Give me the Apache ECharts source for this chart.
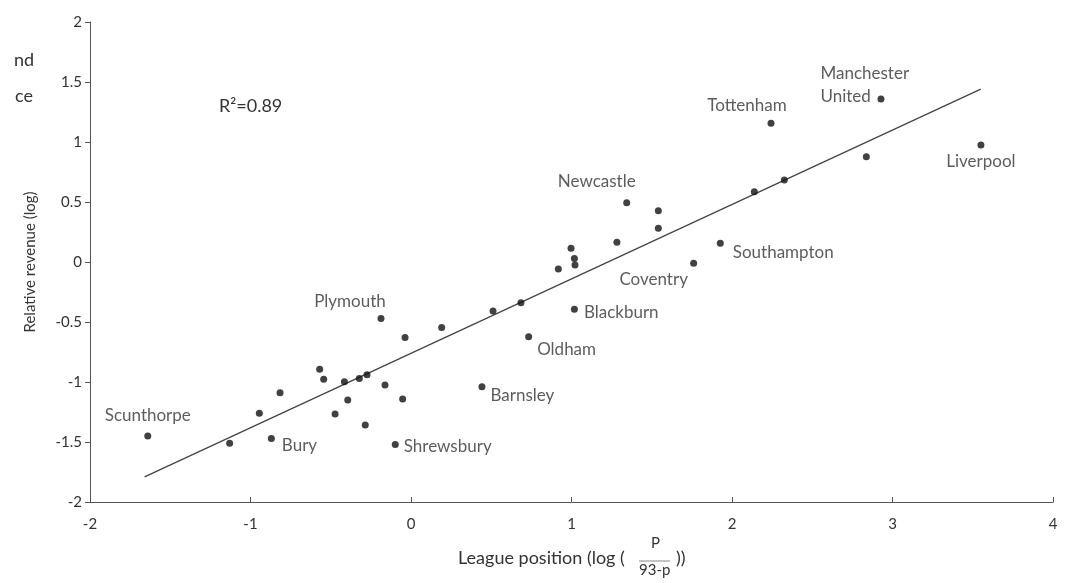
<!DOCTYPE html>
<html>
<head>
<meta charset="utf-8">
<script src="https://cdn.jsdelivr.net/npm/echarts@6/dist/echarts.min.js"></script>
<style>html,body{margin:0;padding:0;background:#fff}#c{width:1065px;height:583px}</style>
</head>
<body>
<div id="c"></div>
<script>
// ---- data ----
const pointX = [-1.64, -1.13, -0.87, -0.945, -0.816, -0.569, -0.544, -0.415, -0.322, -0.274, -0.473, -0.394, -0.285, -0.162, -0.052, -0.098, -0.187, -0.037, 0.191, 0.511, 0.685, 0.733, 0.442, 1.018, 0.918, 1.018, 1.022, 0.997, 1.283, 1.344, 1.541, 1.541, 1.761, 1.927, 2.139, 2.326, 2.243, 2.928, 2.837, 3.551];
const pointY = [-1.45, -1.51, -1.47, -1.26, -1.09, -0.894, -0.978, -0.997, -0.97, -0.94, -1.267, -1.15, -1.358, -1.025, -1.142, -1.52, -0.47, -0.63, -0.545, -0.408, -0.339, -0.622, -1.039, -0.394, -0.058, 0.03, -0.025, 0.114, 0.164, 0.494, 0.428, 0.281, -0.011, 0.156, 0.586, 0.683, 1.156, 1.358, 0.878, 0.975];
const pointLabel = ['Scunthorpe', '', 'Bury', '', '', '', '', '', '', '', '', '', '', '', '', 'Shrewsbury', 'Plymouth', '', '', '', '', 'Oldham', 'Barnsley', 'Blackburn', '', '', '', '', '', 'Newcastle', '', '', 'Coventry', 'Southampton', '', '', 'Tottenham', 'Manchester\nUnited', '', 'Liverpool'];
const fitX = [-1.66, 3.55];
const fitY = [-1.79, 1.44];
const xTicks = [-2, -1, 0, 1, 2, 3, 4];
const yTicks = [-2, -1.5, -1, -0.5, 0, 0.5, 1, 1.5, 2];
const yTitle = 'Relative revenue (log)';
const xTitle = 'League position (log (';
const xTitleNum = 'P';
const xTitleDen = '93-p';
const xTitleEnd = '))';
const rSquared = 'R²=0.89';
const cutText = ['nd', 'ce'];

// ---- styles (label placement) ----
const FONT = 'Lato';
const TXT = '#333';
const labelPlace = {
  'Scunthorpe': {position: 'top', distance: 8},
  'Bury': {position: 'right', distance: 7, offset: [0, 7]},
  'Shrewsbury': {position: 'right', distance: 5, offset: [0, 2]},
  'Barnsley': {position: 'right', distance: 5, offset: [0, 9]},
  'Plymouth': {position: 'top', distance: 5, offset: [-31, 0]},
  'Oldham': {position: 'right', distance: 5, offset: [0, 13]},
  'Blackburn': {position: 'right', distance: 6, offset: [0, 3]},
  'Coventry': {position: 'bottom', distance: 4, offset: [-40, 0]},
  'Southampton': {position: 'right', distance: 9, offset: [0, 9]},
  'Newcastle': {position: 'top', distance: 9, offset: [-30, 0]},
  'Tottenham': {position: 'top', distance: 6, offset: [-24, 0]},
  'Manchester\nUnited': {position: [-57, -34], align: 'left', verticalAlign: 'top', lineHeight: 23},
  'Liverpool': {position: 'bottom', distance: 5}
};

const scatterData = pointX.map((x, i) => {
  const d = {value: [x, pointY[i]]};
  const lab = pointLabel[i];
  if (lab) {
    d.label = Object.assign({show: true, formatter: lab, fontFamily: FONT, fontSize: 17, color: TXT}, labelPlace[lab]);
  }
  return d;
});

const chart = echarts.init(document.getElementById('c'));
chart.setOption({
  backgroundColor: '#fff',
  animation: false,
  grid: {left: 90, right: 12, top: 22, bottom: 81},
  xAxis: {
    type: 'value', min: xTicks[0], max: xTicks[xTicks.length - 1], interval: 1,
    axisLine: {show: true, onZero: false, lineStyle: {color: '#555', width: 1}},
    axisTick: {show: true, inside: true, length: 5, lineStyle: {color: '#555'}},
    splitLine: {show: false},
    axisLabel: {fontFamily: FONT, fontSize: 15, color: TXT, margin: 15,
      formatter: v => xTicks.includes(v) ? String(v) : ''}
  },
  yAxis: {
    type: 'value', min: yTicks[0], max: yTicks[yTicks.length - 1], interval: 0.5,
    name: yTitle, nameLocation: 'middle', nameGap: 52, nameRotate: 90,
    nameTextStyle: {fontFamily: FONT, fontSize: 15, color: TXT},
    axisLine: {show: true, onZero: false, lineStyle: {color: '#555', width: 1}},
    axisTick: {show: true, length: 5, lineStyle: {color: '#555'}},
    splitLine: {show: false},
    axisLabel: {fontFamily: FONT, fontSize: 15, color: TXT, margin: 8,
      formatter: v => yTicks.includes(v) ? String(v) : ''}
  },
  series: [
    {
      type: 'line', data: fitX.map((x, i) => [x, fitY[i]]), symbol: 'none',
      lineStyle: {color: '#444', width: 1.3}, z: 1, silent: true
    },
    {
      type: 'scatter', data: scatterData, symbol: 'circle', symbolSize: 7,
      itemStyle: {color: '#111'}, z: 3
    }
  ],
  graphic: [
    {type: 'text', left: 219, top: 97, style: {text: rSquared, font: '18px ' + FONT, fill: TXT}},
    {type: 'text', left: 14, top: 51, style: {text: cutText[0], font: '18px ' + FONT, fill: TXT}},
    {type: 'text', left: 15, top: 87, style: {text: cutText[1], font: '18px ' + FONT, fill: TXT}},
    {type: 'text', left: 458, top: 549, style: {text: xTitle, font: '18px ' + FONT, fill: TXT}},
    {type: 'text', left: 651, top: 536, style: {text: xTitleNum, font: '15px ' + FONT, fill: TXT}},
    {type: 'line', shape: {x1: 639, y1: 561, x2: 670, y2: 561}, style: {stroke: '#888', lineWidth: 1}},
    {type: 'text', left: 639, top: 563, style: {text: xTitleDen, font: '15px ' + FONT, fill: TXT}},
    {type: 'text', left: 676, top: 549, style: {text: xTitleEnd, font: '18px ' + FONT, fill: TXT}}
  ]
});
</script>
</body>
</html>
